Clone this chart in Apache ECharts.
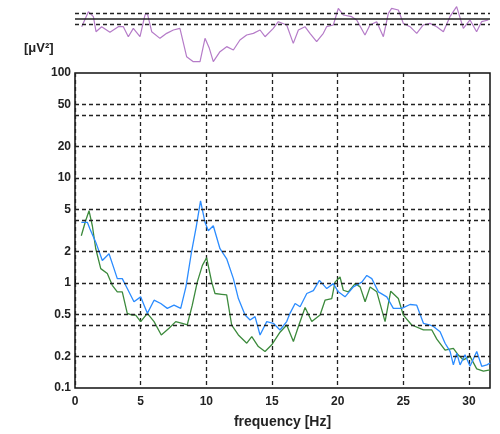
<!DOCTYPE html>
<html>
<head>
<meta charset="utf-8">
<script src="https://cdn.jsdelivr.net/npm/echarts@6/dist/echarts.min.js"></script>
<style>
  html, body { margin: 0; padding: 0; background: #fff; }
  #chart { width: 500px; height: 434px; }
</style>
</head>
<body>
<div id="chart"></div>
<script>
// top trace (arbitrary units, 0 = solid reference line, +-1 = dashed lines)
var purpleFreq = [0.51,1.02,1.40,1.60,2.03,2.66,3.30,3.68,4.06,4.44,4.95,5.33,5.51,5.84,6.47,6.98,7.49,7.99,8.50,9.01,
  9.52,9.90,10.23,10.53,11.04,11.55,12.06,12.56,13.07,13.58,14.09,14.47,15.10,15.48,16.12,16.62,17.01,17.51,17.89,18.40,
  18.91,19.16,19.67,20.05,20.43,21.07,21.45,22.08,22.46,22.97,23.48,23.86,24.11,24.62,25.00,25.51,26.02,26.52,27.03,27.54,
  28.05,28.55,29.06,29.57,30.08,30.58,30.96,31.47];
var purpleVal = [-1.49,1.24,0.33,-2.4,-1.49,-2.52,-1.49,-1.49,-3.31,-1.79,-3.31,0.64,0.94,-2.4,-3.61,-2.7,-2.09,-1.79,-6.94,-7.85,
  -7.85,-3.61,-5.42,-7.85,-6.03,-5.12,-5.73,-3.91,-3.0,-2.7,-2.09,-3.31,-1.79,-0.58,-1.18,-4.52,-2.09,-1.49,-2.7,-4.21,
  -2.7,-1.49,-1.18,1.85,0.64,0.33,-0.27,-3.0,-1.18,-0.58,-3.31,0.94,1.85,1.55,-0.88,-1.49,-2.7,-1.18,-0.88,-1.49,
  -2.4,0.33,2.15,-1.79,-0.27,-2.4,-0.58,-0.27];

// spectra [uV^2]
var blueFreq = [0.48,0.94,1.14,1.58,2.08,2.59,2.97,3.22,3.60,3.98,4.49,5.00,5.26,5.51,6.02,6.53,7.03,7.54,8.05,8.45,
  8.85,9.23,9.56,9.90,10.15,10.53,11.04,11.55,12.06,12.44,12.95,13.33,13.71,14.09,14.60,15.10,15.61,16.12,16.37,16.76,
  17.14,17.65,18.15,18.61,19.17,19.67,20.05,20.56,21.20,21.84,22.22,22.60,23.10,23.74,24.24,24.88,25.51,26.02,26.53,27.04,
  27.29,27.80,28.18,28.56,28.81,29.07,29.32,29.70,30.08,30.59,30.97,31.36,31.61];
var blueVal = [3.78,3.78,3.27,2.45,1.64,1.90,1.37,1.10,1.10,0.885,0.662,0.738,0.615,0.514,0.686,0.638,0.573,0.615,0.573,0.925,
  1.90,3.42,6.06,3.78,3.15,3.51,2.12,1.70,1.10,0.711,0.495,0.444,0.478,0.320,0.429,0.413,0.357,0.429,0.514,0.638,
  0.594,0.794,0.847,1.06,0.885,0.986,0.824,0.738,0.918,1.02,1.18,1.10,0.824,0.738,0.573,0.573,0.624,0.615,0.413,0.398,
  0.385,0.344,0.267,0.223,0.166,0.215,0.166,0.207,0.161,0.223,0.161,0.166,0.173];

var greenFreq = [0.48,0.81,1.07,1.32,1.58,1.96,2.46,2.84,3.22,3.60,3.98,4.36,4.62,5.00,5.51,6.02,6.57,7.16,7.67,8.17,
  8.55,8.93,9.31,9.70,10.02,10.41,10.66,11.17,11.55,11.93,12.44,13.08,13.46,13.96,14.47,14.98,15.61,16.12,16.63,17.01,
  17.52,18.03,18.66,19.04,19.55,19.80,20.18,20.43,20.81,21.33,21.71,22.09,22.47,22.98,23.61,24.04,24.62,25.00,25.64,26.53,
  27.17,27.55,28.18,28.81,29.19,29.57,30.08,30.59,31.10,31.61];
var greenVal = [2.82,3.92,4.87,3.51,2.12,1.37,1.23,0.95,0.824,0.824,0.514,0.495,0.495,0.429,0.514,0.429,0.320,0.371,0.429,0.413,
  0.40,0.615,1.02,1.47,1.74,1.02,0.794,0.78,0.77,0.398,0.320,0.267,0.309,0.248,0.223,0.258,0.340,0.398,0.277,0.385,
  0.585,0.429,0.495,0.686,0.711,1.02,1.14,0.853,0.824,0.986,0.918,0.662,0.918,0.824,0.429,0.835,0.711,0.495,0.398,0.357,
  0.357,0.292,0.229,0.239,0.206,0.185,0.200,0.152,0.145,0.149];

var yTickVals = [0.1, 0.2, 0.5, 1, 2, 5, 10, 20, 50, 100];
var yGridVals = [50, 40, 20, 10, 5, 4, 2, 1, 0.5, 0.4, 0.2];
var xTickVals = [0, 5, 10, 15, 20, 25, 30];

function pairs(xs, ys) {
  return xs.map(function (x, i) { return [x, ys[i]]; });
}

var labelFont = { fontFamily: 'Liberation Sans', fontSize: 12, fontWeight: 'bold', color: '#222' };
var dash = { color: '#222', width: 1.3, type: [4, 3] };

var chart = echarts.init(document.getElementById('chart'));
chart.setOption({
  animation: false,
  backgroundColor: '#fff',
  grid: [
    { left: 75, right: 10, top: 2, height: 66 },
    { left: 75, right: 10, top: 73, bottom: 44, show: true, borderColor: '#111', borderWidth: 1.5, backgroundColor: 'transparent' }
  ],
  graphic: [{
    type: 'text', left: 24, top: 42,
    style: { text: '[μV²]', font: 'bold 13px "Liberation Sans"', fill: '#222' }
  }],
  xAxis: [
    { gridIndex: 0, type: 'value', min: 0, max: 31.6, show: false },
    {
      gridIndex: 1, type: 'value', min: 0, max: 31.6, interval: 5,
      name: 'frequency [Hz]', nameLocation: 'middle', nameGap: 27,
      nameTextStyle: { fontFamily: 'Liberation Sans', fontSize: 14, fontWeight: 'bold', color: '#222' },
      axisLine: { show: false },
      axisTick: { inside: true, length: 4, lineStyle: { color: '#111' }, customValues: xTickVals },
      axisLabel: Object.assign({ margin: 8, customValues: xTickVals }, labelFont),
      splitLine: { show: true, lineStyle: dash }
    }
  ],
  yAxis: [
    { gridIndex: 0, type: 'value', min: -9, max: 3, show: false },
    {
      gridIndex: 1, type: 'log', logBase: 10, min: 0.1, max: 100, position: 'left',
      axisLine: { show: false }, axisTick: { show: false }, axisLabel: { show: false }, splitLine: { show: false }
    },
    {
      gridIndex: 1, type: 'value', min: -1, max: 2, position: 'left', offset: 0,
      axisLine: { show: false },
      axisTick: { show: false },
      splitLine: { show: false },
      axisLabel: Object.assign({
        margin: 4,
        customValues: yTickVals.map(function (v) { return Math.log10(v); }),
        formatter: function (v) { return String(+Math.pow(10, v).toPrecision(2)); }
      }, labelFont)
    }
  ],
  series: [
    {
      type: 'line', xAxisIndex: 0, yAxisIndex: 0,
      data: pairs(purpleFreq, purpleVal),
      showSymbol: false, lineStyle: { color: '#b57bc8', width: 1.2 },
      markLine: {
        silent: true, symbol: 'none', label: { show: false },
        data: [
          { yAxis: 1, lineStyle: dash },
          { yAxis: 0, lineStyle: { color: '#222', width: 1.5, type: 'solid' } },
          { yAxis: -1, lineStyle: dash }
        ]
      }
    },
    {
      type: 'line', xAxisIndex: 1, yAxisIndex: 1, z: 1,
      data: [], showSymbol: false,
      markLine: {
        silent: true, symbol: 'none', label: { show: false }, lineStyle: dash,
        data: yGridVals.map(function (v) { return { yAxis: v }; })
      }
    },
    {
      type: 'line', xAxisIndex: 1, yAxisIndex: 1, z: 3,
      data: pairs(greenFreq, greenVal),
      showSymbol: false, lineStyle: { color: '#3c8a3c', width: 1.3 }
    },
    {
      type: 'line', xAxisIndex: 1, yAxisIndex: 1, z: 4,
      data: pairs(blueFreq, blueVal),
      showSymbol: false, lineStyle: { color: '#2b8cff', width: 1.3 }
    }
  ]
});
</script>
</body>
</html>
